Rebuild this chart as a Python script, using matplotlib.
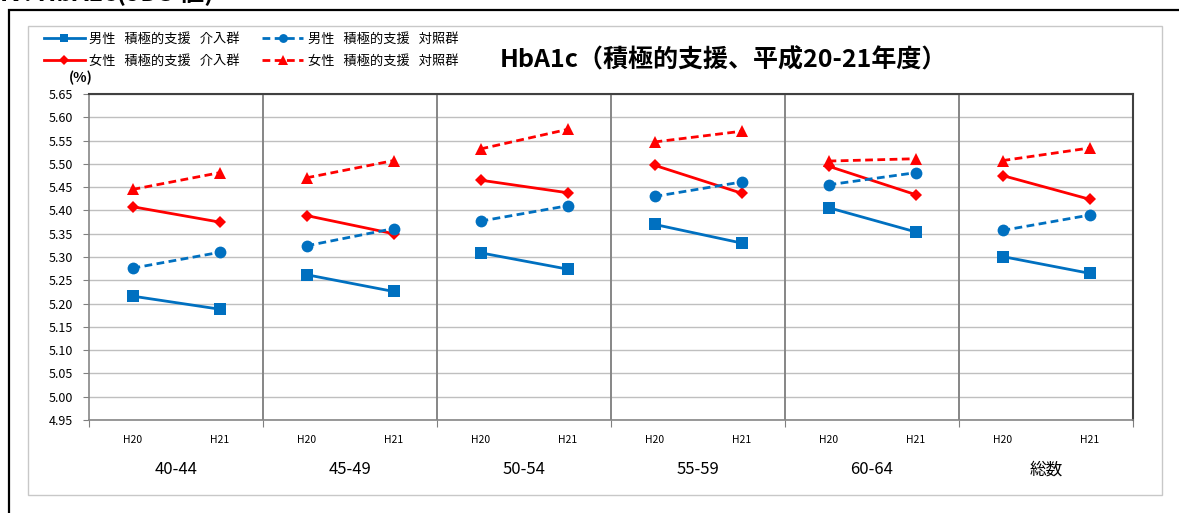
import matplotlib
matplotlib.use('Agg')
import matplotlib.pyplot as plt
import matplotlib.transforms as mtransforms
from matplotlib.patches import Rectangle
import numpy as np

plt.rcParams['font.family'] = ['Noto Sans CJK JP', 'DejaVu Sans']

groups = ['40-44', '45-49', '50-54', '55-59', '60-64', '総数']
years = ['H20', 'H21']

# HbA1c (%) per group, [H20, H21]
male_int = [[5.216, 5.188], [5.262, 5.226], [5.309, 5.274], [5.370, 5.330], [5.406, 5.354], [5.301, 5.265]]
male_ctl = [[5.276, 5.310], [5.324, 5.361], [5.377, 5.410], [5.430, 5.461], [5.455, 5.481], [5.357, 5.390]]
female_int = [[5.408, 5.375], [5.389, 5.350], [5.465, 5.438], [5.497, 5.437], [5.495, 5.434], [5.475, 5.424]]
female_ctl = [[5.445, 5.481], [5.470, 5.507], [5.532, 5.574], [5.547, 5.570], [5.506, 5.511], [5.507, 5.534]]

series = [
    ('男性   積極的支援   介入群', male_int, '#0070C0', '-', 's', 8.5),
    ('女性   積極的支援   介入群', female_int, '#FF0000', '-', 'D', 6.5),
    ('男性   積極的支援   対照群', male_ctl, '#0070C0', (0, (2.8, 1.6)), 'o', 8.5),
    ('女性   積極的支援   対照群', female_ctl, '#FF0000', (0, (2.8, 1.6)), '^', 9),
]

W, H = 1179, 513
fig = plt.figure(figsize=(W / 100, H / 100), dpi=100)

# page frame and chart box
fig.patches.append(Rectangle((9 / W, -0.1), 1.2, 1 - 10 / H + 0.1, transform=fig.transFigure,
                             fill=False, edgecolor='black', lw=1.6, zorder=0))
fig.patches.append(Rectangle((28 / W, 1 - 495 / H), (1162 - 28) / W, (495 - 26) / H,
                             transform=fig.transFigure, fill=False, edgecolor='#c8c8c8', lw=1.0, zorder=0))
# page heading, cut off at the top edge as in the source
fig.text(0 / W, 1 + 7 / H, 'IV. HbA1c(JDS 値)', fontsize=18, fontweight='bold', va='center', ha='left')

ax = fig.add_axes([89 / W, 1 - 420 / H, (1133 - 89) / W, (420 - 94) / H])

handles = []
for label, vals, color, ls, mk, ms in series:
    for g, pair in enumerate(vals):
        x = [2 * g, 2 * g + 1]
        ln, = ax.plot(x, pair, color=color, ls=ls, lw=2, marker=mk, markersize=ms,
                      markeredgewidth=0, zorder=3)
    handles.append((ln, label))

ax.set_xlim(-0.5, 11.5)
ax.set_ylim(4.95, 5.65)
yt = np.arange(4.95, 5.651, 0.05)
ax.set_yticks(yt)
ax.set_yticklabels(['%.2f' % v for v in yt], fontsize=9)
ax.yaxis.grid(True, color='#bfbfbf', lw=1.0)
ax.set_axisbelow(True)

ax.set_xticks(np.arange(-0.5, 11.6, 2))
ax.set_xticklabels([])
ax.set_xticks(np.arange(12), minor=True)
ax.set_xticklabels(years * 6, minor=True, fontsize=7.5)
ax.tick_params(axis='x', which='minor', length=0, pad=11)
ax.tick_params(axis='x', which='major', length=5, color='#808080')
ax.tick_params(axis='y', length=4.5, color='#808080', pad=7)

for b in np.arange(1.5, 10.6, 2):
    ax.axvline(b, color='#868686', lw=1.4, zorder=1)

for s in ['left', 'bottom']:
    ax.spines[s].set_color('#868686')
    ax.spines[s].set_linewidth(1.2)
ax.spines['top'].set_color('#404040')
ax.spines['top'].set_linewidth(1.5)
ax.spines['right'].set_color('#404040')
ax.spines['right'].set_linewidth(1.5)

trans = mtransforms.blended_transform_factory(ax.transData, fig.transFigure)
for g, name in enumerate(groups):
    ax.text(2 * g + 0.5, 1 - 470 / H, name, transform=trans, fontsize=12, ha='center', va='center')

fig.text(81 / W, 1 - 78 / H, '(%)', fontsize=10, fontweight='bold', ha='center', va='center')
fig.text(723 / W, 1 - 60 / H, 'HbA1c（積極的支援、平成20-21年度）', fontsize=18, fontweight='bold',
         ha='center', va='center')

fig.legend([h for h, _ in handles], [l for _, l in handles], ncol=2, loc='upper left',
           bbox_to_anchor=(32 / W, 1 - 21 / H), frameon=False, fontsize=9.5, borderpad=0.4,
           handlelength=3.1, handletextpad=0.35, columnspacing=1.7, labelspacing=0.7,
           markerscale=0.75)

fig.savefig('out.png', dpi=100)
